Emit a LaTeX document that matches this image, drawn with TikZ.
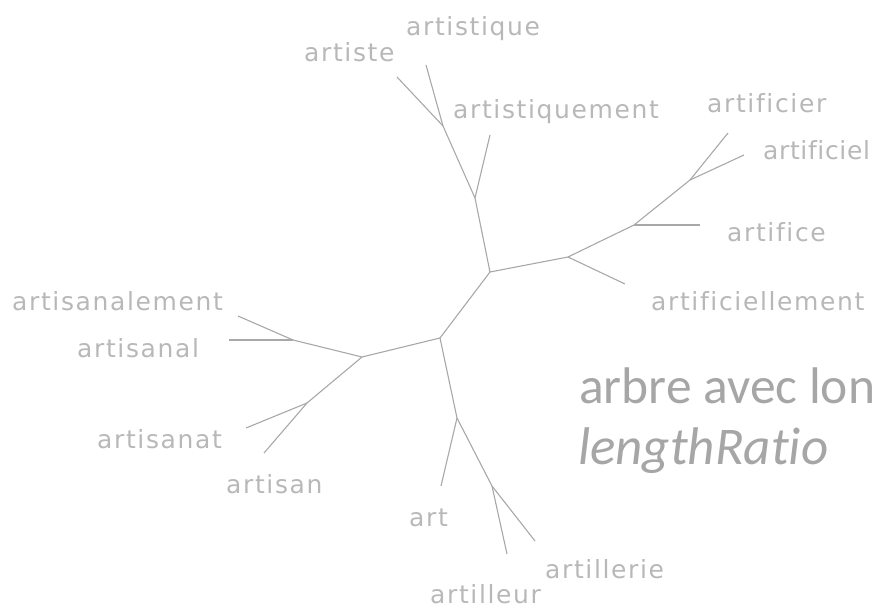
\documentclass[tikz,border=0pt]{standalone}
\usepackage{fontspec}
\setmainfont[Ligatures=NoCommon, LetterSpace=6.5]{DejaVu Sans}
\newfontfamily\bigfont[Ligatures=NoCommon]{Carlito}
\definecolor{edgegray}{HTML}{A8A8A8}
\definecolor{labelgray}{HTML}{B8B8B8}
\definecolor{titlegray}{HTML}{A6A6A6}
\tikzset{
  edge/.style={draw=edgegray, line width=1.1pt},
  leaflabel/.style={anchor=base west, inner sep=0pt, text=labelgray, font=\fontsize{25}{25}\selectfont},
  titletext/.style={anchor=base west, inner sep=0pt, text=titlegray, font=\bigfont\fontsize{53}{53}\selectfont}
}
\begin{document}
\begin{tikzpicture}[x=1pt, y=-1pt]
\useasboundingbox (0,0) rectangle (878,609);
% internal nodes
\coordinate (A) at (440,338);
\coordinate (B) at (362,357);
\coordinate (C) at (490,272);
\coordinate (D) at (475,198);
\coordinate (E) at (443,126);
\coordinate (F) at (568,257);
\coordinate (G) at (634,225);
\coordinate (H) at (690,180);
\coordinate (I) at (293,340);
\coordinate (J) at (307,403);
\coordinate (K) at (457,418);
\coordinate (L) at (492,486);
% leaf ends
\coordinate (l-artiste) at (397,77);
\coordinate (l-artistique) at (426,65);
\coordinate (l-artistiquement) at (490,135);
\coordinate (l-artificiellement) at (625,284);
\coordinate (l-artifice) at (700,225);
\coordinate (l-artificier) at (728,133);
\coordinate (l-artificiel) at (744,155);
\coordinate (l-artisanalement) at (238,316);
\coordinate (l-artisanal) at (229,340);
\coordinate (l-artisanat) at (246,428);
\coordinate (l-artisan) at (264,453);
\coordinate (l-art) at (441,486);
\coordinate (l-artillerie) at (535,541);
\coordinate (l-artilleur) at (507,554);
% edges
\draw[edge] (A) -- (B);
\draw[edge] (A) -- (C);
\draw[edge] (A) -- (K);
\draw[edge] (C) -- (D);
\draw[edge] (C) -- (F);
\draw[edge] (D) -- (E);
\draw[edge] (D) -- (l-artistiquement);
\draw[edge] (E) -- (l-artiste);
\draw[edge] (E) -- (l-artistique);
\draw[edge] (F) -- (l-artificiellement);
\draw[edge] (F) -- (G);
\draw[edge] (G) -- (l-artifice);
\draw[edge] (G) -- (H);
\draw[edge] (H) -- (l-artificier);
\draw[edge] (H) -- (l-artificiel);
\draw[edge] (B) -- (I);
\draw[edge] (I) -- (l-artisanalement);
\draw[edge] (I) -- (l-artisanal);
\draw[edge] (B) -- (J);
\draw[edge] (J) -- (l-artisanat);
\draw[edge] (J) -- (l-artisan);
\draw[edge] (K) -- (l-art);
\draw[edge] (K) -- (L);
\draw[edge] (L) -- (l-artillerie);
\draw[edge] (L) -- (l-artilleur);
% labels
\node[leaflabel] (t-artistique) at (406,36) {artistique};
\node[leaflabel] (t-artiste) at (304,62) {artiste};
\node[leaflabel] (t-artistiquement) at (453,119) {artistiquement};
\node[leaflabel] (t-artificier) at (707,113) {artificier};
\node[leaflabel, font=\fontsize{25}{25}\selectfont\addfontfeature{LetterSpace=2.5}] (t-artificiel) at (763,160) {artificiel};
\node[leaflabel] (t-artifice) at (727,242) {artifice};
\node[leaflabel] (t-artificiellement) at (651,311) {artificiellement};
\node[leaflabel] (t-artisanalement) at (12,311) {artisanalement};
\node[leaflabel] (t-artisanal) at (77,358) {artisanal};
\node[leaflabel] (t-artisanat) at (97,448) {artisanat};
\node[leaflabel] (t-artisan) at (226,493) {artisan};
\node[leaflabel] (t-art) at (409,526) {art};
\node[leaflabel] (t-artillerie) at (545,578) {artillerie};
\node[leaflabel] (t-artilleur) at (430,603) {artilleur};
% title
\node[titletext, font=\bigfont\fontsize{51.5}{51.5}\selectfont] (title1) at (579,403) {arbre avec lon};
\node[titletext, font=\bigfont\itshape\fontsize{53}{53}\selectfont] (title2) at (578,464) {lengthRatio};
\end{tikzpicture}
\end{document}
